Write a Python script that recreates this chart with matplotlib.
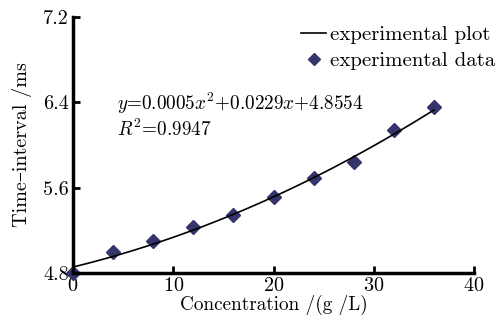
import numpy as np
import matplotlib
matplotlib.use("Agg")
import matplotlib.pyplot as plt

plt.rcParams['font.family'] = ['cmr10', 'DejaVu Serif']
plt.rcParams['mathtext.fontset'] = 'cm'
plt.rcParams['axes.unicode_minus'] = False
plt.rcParams['axes.formatter.use_mathtext'] = True

# concentration (g/L) and measured time interval (ms)
conc = [0, 4, 8, 12, 16, 20, 24, 28, 32, 36]
interval = [4.80, 5.00, 5.10, 5.23, 5.34, 5.51, 5.69, 5.84, 6.14, 6.36]

# quadratic fit coefficients as printed on the chart
fit_coeff = [0.0005, 0.0229, 4.8554]

x_ticks = [0, 10, 20, 30, 40]
y_ticks = [4.8, 5.6, 6.4, 7.2]

fig = plt.figure(figsize=(5, 3.2), dpi=100)
ax = fig.add_axes([0.146, 0.147, 0.802, 0.8])

xs = np.linspace(conc[0], conc[-1], 200)
ax.plot(xs, np.polyval(fit_coeff, xs), color='black', lw=1.2, zorder=3,
        label='experimental plot')
ax.plot(conc, interval, 'D', color='#35356b', ms=7.5, ls='none', zorder=2,
        clip_on=False, label='experimental data')

ax.set_xlim(0, 40)
ax.set_ylim(4.8, 7.2)
ax.set_xticks(x_ticks)
ax.set_yticks(y_ticks)
ax.set_yticklabels(['%.1f' % v for v in y_ticks])

for s in ['top', 'right']:
    ax.spines[s].set_visible(False)
for s in ['left', 'bottom']:
    ax.spines[s].set_linewidth(2.5)
ax.tick_params(direction='in', width=2, length=5, labelsize=14.5, pad=3)

ax.set_xlabel('Concentration /(g /L)', fontsize=13.8, labelpad=0)
ax.set_ylabel('Time\u2013interval /ms', fontsize=14.5, labelpad=8)

ax.text(4.4, 6.39, '$y$=0.0005$x^2$+0.0229$x$+4.8554', fontsize=13.8,
        va='center', ha='left')
ax.text(4.4, 6.15, '$R^2$=0.9947', fontsize=13.8, va='center', ha='left')

leg = ax.legend(loc='upper right', bbox_to_anchor=(1.085, 1.015), frameon=False,
                fontsize=15, handlelength=1.2, handletextpad=0.2,
                labelspacing=0.35, borderaxespad=0.2, markerscale=0.75)

fig.savefig('out.png', dpi=100)
